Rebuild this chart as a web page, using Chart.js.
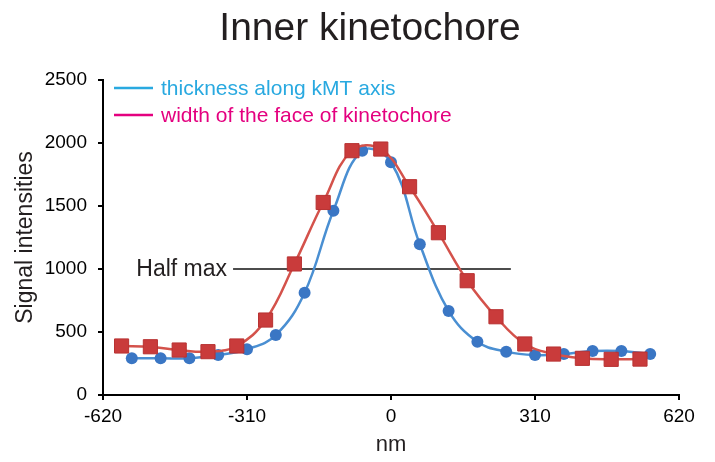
<!DOCTYPE html>
<html>
<head>
<meta charset="utf-8">
<title>Inner kinetochore</title>
<script src="https://cdn.jsdelivr.net/npm/chart.js@4/dist/chart.umd.min.js"></script>
<style>
  body { margin: 0; background: #fff; }
  #grafico { display: block; }
</style>
</head>
<body>
<canvas id="grafico" width="715" height="462"></canvas>
<script>
// datos
const tituloGrafico = "Inner kinetochore";
const etiquetas = ["thickness along kMT axis", "width of the face of kinetochore"];

const espesorX = [-558, -496, -434, -372, -310, -248, -186, -124, -62, 0, 62, 124, 186, 248, 310, 372, 434, 496, 558];
const espesorY = [291, 291, 291, 317, 363, 476, 812, 1463, 1939, 1847, 1196, 667, 422, 344, 317, 325, 349, 349, 325];

const anchoX = [-580, -518, -456, -394, -332, -270, -208, -146, -84, -22, 40, 102, 164, 226, 288, 350, 412, 474, 536];
const anchoY = [389, 383, 357, 344, 389, 595, 1040, 1528, 1939, 1952, 1653, 1288, 907, 621, 405, 325, 291, 283, 285];

const mitadX = [-340, 258];
const mitadY = [1000, 1000];
const mitadTexto = "Half max";

const ticksX = [-620, -310, 0, 310, 620];
const ticksY = [0, 500, 1000, 1500, 2000, 2500];

// colores
const azulLinea = "#4a8fd2";
const azulPunto = "#3a76c4";
const rojoLinea = "#d4524b";
const rojoPunto = "#c93b3b";
const colorLeyenda = ["#29a9e0", "#e4007f"];
const oscuro = "#231f20";

const fuente = "'Liberation Sans', Arial, Helvetica, sans-serif";
Chart.defaults.font.family = fuente;
Chart.defaults.color = "#000";

function unir(xs, ys) {
	return xs.map((x, i) => ({ x: x, y: ys[i] }));
}

// titulo, leyenda y texto "Half max"
const textosPlugin = {
	id: "textos",
	afterDraw(chart) {
		const ctx = chart.ctx;
		const area = chart.chartArea;
		const sx = chart.scales.x;
		const sy = chart.scales.y;
		ctx.save();

		ctx.fillStyle = oscuro;
		ctx.font = "39px " + fuente;
		ctx.textAlign = "center";
		ctx.textBaseline = "alphabetic";
		ctx.fillText(tituloGrafico, 370, 40);

		// leyenda
		ctx.font = "21px " + fuente;
		ctx.textAlign = "left";
		ctx.textBaseline = "middle";
		ctx.lineWidth = 2.5;
		for (let i = 0; i < etiquetas.length; i++) {
			const y = area.top + 8 + i * 27;
			ctx.strokeStyle = colorLeyenda[i];
			ctx.beginPath();
			ctx.moveTo(area.left + 11, y);
			ctx.lineTo(area.left + 50, y);
			ctx.stroke();
			ctx.fillStyle = colorLeyenda[i];
			ctx.fillText(etiquetas[i], area.left + 58, y + 1);
		}

		// Half max
		ctx.font = "23px " + fuente;
		ctx.fillStyle = oscuro;
		ctx.textAlign = "right";
		ctx.fillText(mitadTexto, sx.getPixelForValue(mitadX[0]) - 6, sy.getPixelForValue(mitadY[0]) + 1);
		ctx.restore();
	}
};

const ctx = document.getElementById("grafico").getContext("2d");
const miGrafico = new Chart(ctx, {
	type: "line",
	data: {
		datasets: [
			{
				label: "Half max",
				data: unir(mitadX, mitadY),
				borderColor: "#111",
				borderWidth: 1.5,
				pointRadius: 0,
				tension: 0,
				order: 3
			},
			{
				label: etiquetas[0],
				data: unir(espesorX, espesorY),
				borderColor: azulLinea,
				borderWidth: 2.5,
				tension: 0.4,
				pointStyle: "circle",
				pointRadius: 6,
				pointBackgroundColor: azulPunto,
				pointBorderColor: azulPunto,
				pointBorderWidth: 0,
				order: 2
			},
			{
				label: etiquetas[1],
				data: unir(anchoX, anchoY),
				borderColor: rojoLinea,
				borderWidth: 2.5,
				tension: 0.4,
				pointStyle: "rect",
				pointRadius: 10,
				pointBackgroundColor: rojoPunto,
				pointBorderColor: "#b83232",
				pointBorderWidth: 1,
				order: 1
			}
		]
	},
	options: {
		responsive: false,
		animation: false,
		layout: { padding: { top: 80, right: 36, left: 0, bottom: 0 } },
		plugins: {
			legend: { display: false },
			title: { display: false },
			tooltip: { enabled: false }
		},
		scales: {
			x: {
				type: "linear",
				min: ticksX[0],
				max: ticksX[ticksX.length - 1],
				afterBuildTicks: s => { s.ticks = ticksX.map(v => ({ value: v })); },
				afterFit: s => { s.height = 67; },
				border: { color: "#000", width: 2 },
				grid: { drawOnChartArea: false, drawTicks: true, tickLength: 5, color: "#000", lineWidth: 2 },
				ticks: { font: { size: 19 }, color: "#000", padding: 5, maxRotation: 0, callback: v => String(v) },
				title: { display: true, text: "nm", color: oscuro, font: { size: 22, lineHeight: 0.8 }, padding: { top: 0, bottom: 8 } }
			},
			y: {
				type: "linear",
				min: ticksY[0],
				max: ticksY[ticksY.length - 1],
				afterBuildTicks: s => { s.ticks = ticksY.map(v => ({ value: v })); },
				afterFit: s => { s.width = 103; },
				border: { color: "#000", width: 2 },
				grid: { drawOnChartArea: false, drawTicks: true, tickLength: 5, color: "#000", lineWidth: 2 },
				ticks: { font: { size: 19 }, color: "#000", padding: 11, callback: v => String(v) },
				title: { display: true, text: "Signal intensities", color: oscuro, font: { size: 23 }, padding: { top: 12, bottom: 0 } }
			}
		}
	},
	plugins: [textosPlugin]
});
</script>
</body>
</html>
